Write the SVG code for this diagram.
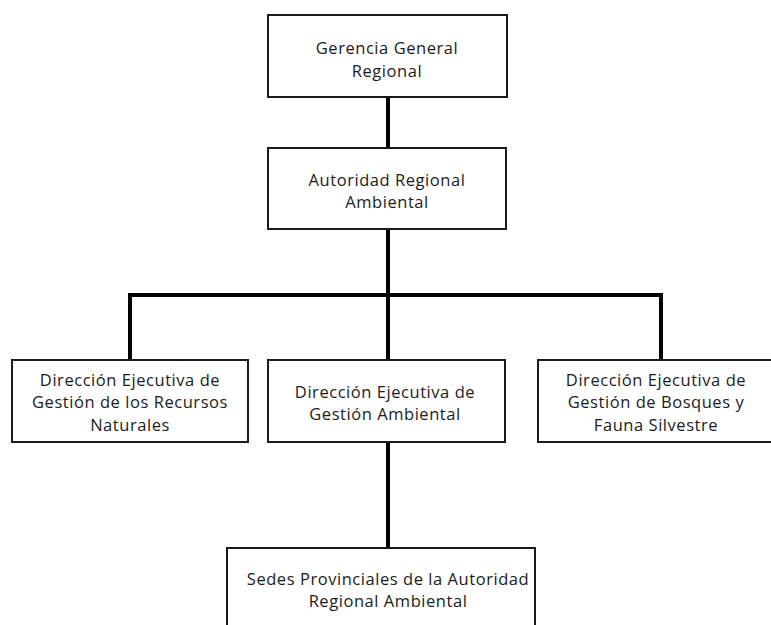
<svg xmlns="http://www.w3.org/2000/svg" width="771" height="625" viewBox="0 0 771 625">
<style>
.box{fill:#fff;stroke:#1a1a1a;stroke-width:2}
.t{font-family:"Open Sans","Noto Sans",sans-serif;font-size:16.5px;letter-spacing:0.55px;fill:#1c1c1c;text-anchor:middle}
.c{stroke:#000;stroke-width:4;fill:none}
</style>
<rect width="771" height="625" fill="#fff"/>
<g id="connectors">
<line class="c" x1="388" y1="97" x2="388" y2="148"/>
<line class="c" x1="388" y1="229" x2="388" y2="360"/>
<polyline class="c" points="130,360 130,295 661,295 661,360"/>
<line class="c" x1="388" y1="442" x2="388" y2="548"/>
</g>
<g id="n1"><rect class="box" x="268" y="15" width="239" height="82"/>
<text class="t" x="387" y="54">Gerencia General</text><text class="t" x="387" y="76.5">Regional</text></g>
<g id="n2"><rect class="box" x="268" y="148" width="238" height="81"/>
<text class="t" x="387" y="185.5">Autoridad Regional</text><text class="t" x="387" y="208">Ambiental</text></g>
<g id="n3"><rect class="box" x="12" y="360" width="236" height="82"/>
<text class="t" x="130" y="385.5">Dirección Ejecutiva de</text><text class="t" x="130" y="408">Gestión de los Recursos</text><text class="t" x="130" y="430.5">Naturales</text></g>
<g id="n4"><rect class="box" x="268" y="360" width="237" height="82"/>
<text class="t" x="385" y="397.5">Dirección Ejecutiva de</text><text class="t" x="385" y="420">Gestión Ambiental</text></g>
<g id="n5"><rect class="box" x="538" y="360" width="240" height="82"/>
<text class="t" x="656" y="385.5">Dirección Ejecutiva de</text><text class="t" x="656" y="408">Gestión de Bosques y</text><text class="t" x="656" y="430.5">Fauna Silvestre</text></g>
<g id="n6"><rect class="box" x="227" y="548" width="308" height="90"/>
<text class="t" x="388" y="584.5">Sedes Provinciales de la Autoridad</text><text class="t" x="388" y="607">Regional Ambiental</text></g>
</svg>
